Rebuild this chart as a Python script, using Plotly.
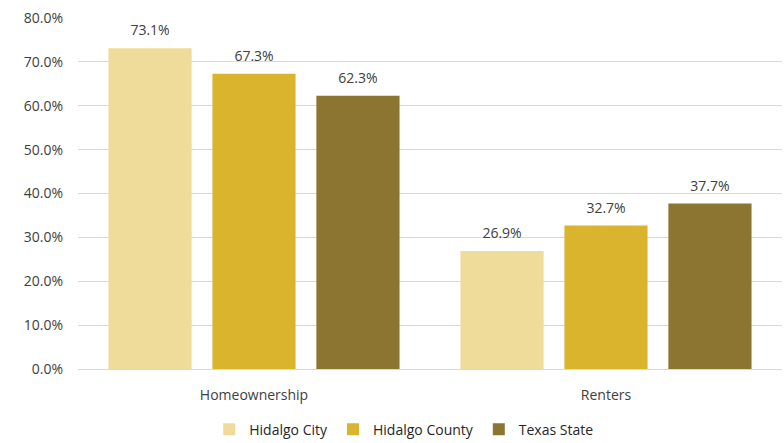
import plotly.graph_objects as go

categories = ["Homeownership", "Renters"]
series_names = ["Hidalgo City", "Hidalgo County", "Texas State"]
hidalgo_city = [73.1, 26.9]
hidalgo_county = [67.3, 32.7]
texas_state = [62.3, 37.7]
colors = ["#EFDB9A", "#DAB42D", "#8B7530"]
tick_vals = [0, 10, 20, 30, 40, 50, 60, 70, 80]
tick_text = [f"{v:.1f}%" for v in tick_vals]

fig = go.Figure()
for name, vals, col in zip(series_names, [hidalgo_city, hidalgo_county, texas_state], colors):
    fig.add_trace(go.Bar(
        x=categories, y=vals, name=name,
        marker=dict(color=col, line=dict(width=0)),
        text=[f"<span style='font-size:14px'>{v:.1f}%</span><br> " for v in vals],
        textposition="outside",
        textfont=dict(size=6, color="#404040"),
        cliponaxis=False,
    ))

fig.update_layout(
    width=784, height=443,
    margin=dict(l=78, r=2, t=18, b=74, autoexpand=False),
    paper_bgcolor="white", plot_bgcolor="white",
    barmode="group", bargap=0.114, bargroupgap=0.2,
    font=dict(family="Open Sans, Liberation Sans, sans-serif", size=14, color="#404040"),
    showlegend=True,
    legend=dict(orientation="h", x=0.515, xanchor="center", xref="container",
                y=0.03, yanchor="middle", yref="container",
                font=dict(size=14, color="#262626"), traceorder="normal",
                itemwidth=30),
    xaxis=dict(showgrid=False, showline=False, ticks="", ticklabelstandoff=16,
               tickfont=dict(size=14, color="#404040")),
    yaxis=dict(range=[0, 80], tickvals=tick_vals, ticktext=tick_text,
               showgrid=True, gridcolor="#D9D9D9", gridwidth=1,
               zeroline=True, zerolinecolor="#D9D9D9", zerolinewidth=1,
               showline=False, ticks="", ticklabelstandoff=14,
               tickfont=dict(size=14, color="#404040")),
)

fig.write_html("out.html")
